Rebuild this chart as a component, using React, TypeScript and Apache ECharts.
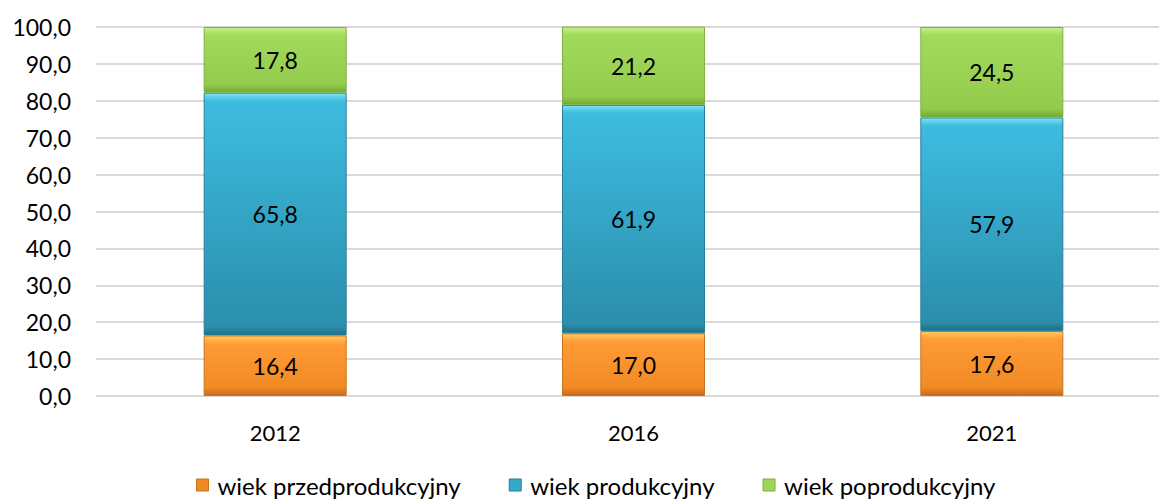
import React, { useEffect, useRef } from "react";
import * as echarts from "echarts";

const categories = ["2012", "2016", "2021"];
const przed = [16.4, 17.0, 17.6];
const prod = [65.8, 61.9, 57.9];
const poprod = [17.8, 21.2, 24.5];
const seriesNames = ["wiek przedprodukcyjny", "wiek produkcyjny", "wiek poprodukcyjny"];

const FONT = "Lato, 'Open Sans', sans-serif";
const PX_PER_UNIT = 369 / 100;

function fmt(v: number) {
  return v.toFixed(1).replace(".", ",");
}

function grad(v: number, hi: string, top: string, bottom: string, dark: string) {
  const h = Math.max(v * PX_PER_UNIT, 20);
  const e = 8 / h;
  return new echarts.graphic.LinearGradient(0, 0, 0, 1, [
    { offset: 0, color: hi },
    { offset: e, color: top },
    { offset: 1 - e, color: bottom },
    { offset: 1, color: dark },
  ]);
}

export default function App() {
  const ref = useRef<HTMLDivElement>(null);
  useEffect(() => {
    if (!ref.current) return;
    const chart = echarts.init(ref.current, undefined, { renderer: "svg" });
    const styles = [
      { hi: "#FFCB66", top: "#FF9B35", bottom: "#F08A25", dark: "#C9691A", border: "#C8731E", legend: "#F08A24" },
      { hi: "#7FE2F5", top: "#3DBCE0", bottom: "#2B8EAC", dark: "#1F6E86", border: "#2A7E98", legend: "#36A9CB" },
      { hi: "#C9F08E", top: "#A2DA5C", bottom: "#93CB4D", dark: "#74A836", border: "#7EAF40", legend: "#9ED659" },
    ];
    const datasets = [przed, prod, poprod];
    chart.setOption({
      animation: false,
      textStyle: { fontFamily: FONT },
      grid: { left: 96, top: 27, width: 1075, height: 369, containLabel: false },
      legend: {
        top: 473,
        left: 196,
        icon: "rect",
        itemWidth: 12,
        itemHeight: 12,
        itemGap: 48,
        padding: 0,
        textStyle: { fontSize: 24, color: "#000", fontFamily: FONT, padding: [0, 0, 0, 4] },
        data: seriesNames.map((n, i) => ({
          name: n,
          itemStyle: { color: styles[i].legend, borderColor: styles[i].border, borderWidth: 1 },
        })),
      },
      xAxis: {
        type: "category",
        data: categories,
        axisLine: { show: false },
        axisTick: { show: false },
        axisLabel: { fontSize: 22, color: "#000", margin: 25, fontFamily: FONT },
      },
      yAxis: {
        type: "value",
        min: 0,
        max: 100,
        interval: 10,
        axisLine: { show: false },
        axisTick: { show: false },
        axisLabel: { fontSize: 23, color: "#000", margin: 25, formatter: (v: number) => fmt(v), fontFamily: FONT },
        splitLine: { lineStyle: { color: "#D9D9D9", width: 2 } },
      },
      series: datasets.map((d, i) => ({
        name: seriesNames[i],
        type: "bar",
        stack: "total",
        barWidth: 143,
        clip: false,
        data: d.map((v) => ({
          value: v,
          itemStyle: {
            color: grad(v, styles[i].hi, styles[i].top, styles[i].bottom, styles[i].dark),
            borderColor: styles[i].border,
            borderWidth: 1,
          },
        })),
        label: {
          show: true,
          position: "inside",
          fontSize: 23,
          color: "#000",
          fontFamily: FONT,
          formatter: (p: any) => fmt(p.value),
        },
      })),
    });
    return () => chart.dispose();
  }, []);
  return (
    <div style={{ position: "fixed", left: 0, top: 0, width: 1159, height: 500, overflow: "hidden", background: "#fff" }}>
      <div ref={ref} style={{ width: 1200, height: 500 }} />
    </div>
  );
}
